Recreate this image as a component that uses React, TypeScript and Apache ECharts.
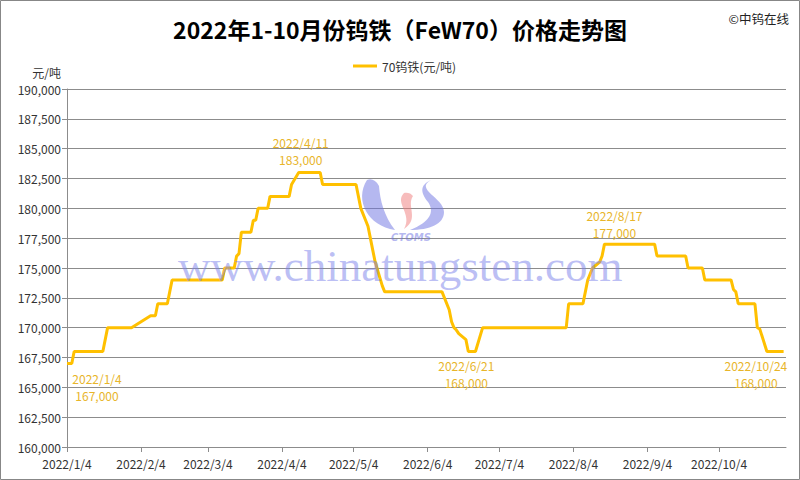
import React, { useEffect, useRef } from 'react';
import * as echarts from 'echarts';

const TITLE = '2022年1-10月份钨铁（FeW70）价格走势图';
const SERIES_NAME = '70钨铁(元/吨)';
const Y_UNIT = '元/吨';
const COPYRIGHT = '©中钨在线';

const tickLabels = ['2022/1/4', '2022/2/4', '2022/3/4', '2022/4/4', '2022/5/4', '2022/6/4', '2022/7/4', '2022/8/4', '2022/9/4', '2022/10/4'];
const xMinDate = '2022/1/4';
const xMaxDate = '2022/11/1';

const dates = [
  '2022/1/4', '2022/1/6', '2022/1/7', '2022/1/19', '2022/1/20', '2022/1/21', '2022/1/31',
  '2022/2/8', '2022/2/10', '2022/2/11', '2022/2/15', '2022/2/16', '2022/2/17',
  '2022/3/10', '2022/3/11', '2022/3/15', '2022/3/16', '2022/3/17', '2022/3/18', '2022/3/22',
  '2022/3/23', '2022/3/24', '2022/3/25', '2022/3/29', '2022/3/30',
  '2022/4/7', '2022/4/8', '2022/4/11', '2022/4/20', '2022/4/21',
  '2022/5/5', '2022/5/6', '2022/5/7', '2022/5/9', '2022/5/10', '2022/5/11', '2022/5/12', '2022/5/13',
  '2022/5/16', '2022/5/17',
  '2022/6/10', '2022/6/13', '2022/6/14', '2022/6/15', '2022/6/16', '2022/6/17', '2022/6/20',
  '2022/6/21', '2022/6/24', '2022/6/27',
  '2022/8/1', '2022/8/2', '2022/8/8', '2022/8/9', '2022/8/10', '2022/8/11', '2022/8/12',
  '2022/8/15', '2022/8/16', '2022/8/17',
  '2022/9/7', '2022/9/8', '2022/9/20', '2022/9/21', '2022/9/27', '2022/9/28',
  '2022/10/9', '2022/10/10', '2022/10/11', '2022/10/12', '2022/10/19', '2022/10/20',
  '2022/10/21', '2022/10/24', '2022/10/31'
];
const prices = [
  167000, 167000, 168000, 168000, 169000, 170000, 170000,
  171000, 171000, 172000, 172000, 173000, 174000,
  174000, 175000, 175000, 176000, 176200, 178000, 178000,
  179000, 179000, 180000, 180000, 181000,
  181000, 182000, 183000, 183000, 182000,
  182000, 181000, 180000, 179000, 178500, 177500, 176500, 175500,
  173500, 173000,
  173000, 171500, 170500, 170000, 169800, 169500, 169000,
  168000, 168000, 170000,
  170000, 172000, 172000, 173000, 174000, 174500, 175000,
  175500, 176000, 177000,
  177000, 176000, 176000, 175000, 175000, 174000,
  174000, 173200, 173000, 172000, 172000, 170000,
  169900, 168000, 168000
];
const annotatedDates = ['2022/1/4', '2022/4/11', '2022/6/21', '2022/8/17', '2022/10/24'];

const FONT = '"Noto Sans CJK SC", "Noto Sans", sans-serif';
const LINE_COLOR = '#FFC000';
const LABEL_COLOR = '#E8B52A';
const GRID_COLOR = '#8C8C8C';

function toTs(s: string): number {
  const [y, m, d] = s.split('/').map(Number);
  return Date.UTC(y, m - 1, d);
}

const fmtNum = (v: number) => v.toLocaleString('en-US');

// logo shapes (watermark)
echarts.graphic.registerShape('ctomsLeft', echarts.graphic.extendPath(
  'M 367 180 C 354 200, 368 226, 395 230 C 384 216, 380 200, 379 186 C 376 180, 371 178, 367 180 Z', {}));
echarts.graphic.registerShape('ctomsRed', echarts.graphic.extendPath(
  'M 404 193 C 394 203, 413 214, 404 229 C 420 219, 406 206, 413 196 C 411 193, 407 192, 404 193 Z', {}));
echarts.graphic.registerShape('ctomsRight', echarts.graphic.extendPath(
  'M 431 180 C 414 189, 444 198, 444 212 C 444 224, 430 230, 410 230 C 430 222, 435 212, 428 202 C 420 192, 420 185, 431 180 Z', {}));

// label placement for annotated points (style only)
const labelPlacement: Record<string, { position: string; offset: number[] }> = {
  '2022/1/4': { position: 'bottom', offset: [30, 2] },
  '2022/4/11': { position: 'top', offset: [2, 0] },
  '2022/6/21': { position: 'bottom', offset: [-2, 0] },
  '2022/8/17': { position: 'top', offset: [10, 2] },
  '2022/10/24': { position: 'bottom', offset: [-11, 0] },
};

export default function App() {
  const ref = useRef<HTMLDivElement>(null);
  useEffect(() => {
    if (!ref.current) return;
    const chart = echarts.init(ref.current, null, { renderer: 'svg', width: 800, height: 480 });
    const tickTs = tickLabels.map(toTs);
    const data = dates.map((d, i) => {
      const item: any = { value: [toTs(d), prices[i]] };
      if (annotatedDates.includes(d)) {
        const p = labelPlacement[d];
        item.label = {
          show: true,
          position: p.position,
          offset: p.offset,
          formatter: () => `${d}\n${fmtNum(prices[i])}`,
          color: LABEL_COLOR,
          fontSize: 12,
          lineHeight: 17,
          fontFamily: FONT,
          align: 'center',
        };
      }
      return item;
    });
    const option: any = {
      animation: false,
      backgroundColor: '#ffffff',
      textStyle: { fontFamily: FONT },
      title: {
        text: TITLE,
        left: 'center',
        top: 12,
        textStyle: { fontSize: 23, fontWeight: 'bold', color: '#000', fontFamily: FONT },
      },
      legend: {
        data: [SERIES_NAME],
        left: 348,
        top: 55,
        icon: 'rect',
        itemWidth: 24,
        itemHeight: 3,
        itemGap: 10,
        selectedMode: false,
        textStyle: { fontSize: 12, color: '#333', fontFamily: FONT },
      },
      grid: { left: 67, right: 14, top: 89, bottom: 33, containLabel: false },
      xAxis: {
        type: 'value',
        min: toTs(xMinDate),
        max: toTs(xMaxDate),
        axisLine: { show: true, lineStyle: { color: GRID_COLOR } },
        axisTick: { show: true, length: 5, customValues: tickTs, lineStyle: { color: GRID_COLOR } },
        axisLabel: {
          customValues: tickTs,
          formatter: (v: number) => {
            const idx = tickTs.indexOf(v);
            return idx >= 0 ? tickLabels[idx] : '';
          },
          fontSize: 12,
          color: '#333',
          margin: 10,
          fontFamily: FONT,
        },
        splitLine: { show: false },
      },
      yAxis: {
        type: 'value',
        min: 160000,
        max: 190000,
        interval: 2500,
        axisLine: { show: true, lineStyle: { color: GRID_COLOR } },
        axisTick: { show: true, length: 5, lineStyle: { color: GRID_COLOR } },
        axisLabel: { formatter: (v: number) => fmtNum(v), fontSize: 12, color: '#333', margin: 6, fontFamily: FONT },
        splitLine: { show: true, lineStyle: { color: GRID_COLOR, width: 1 } },
      },
      series: [
        {
          name: SERIES_NAME,
          type: 'line',
          data,
          symbol: 'circle',
          symbolSize: 0,
          showSymbol: true,
          silent: true,
          lineStyle: { color: LINE_COLOR, width: 3 },
          itemStyle: { color: LINE_COLOR },
          emphasis: { disabled: true },
        },
      ],
      graphic: [
        {
          type: 'rect',
          shape: { x: 0.5, y: 0.5, width: 799, height: 479 },
          style: { fill: 'none', stroke: '#878787', lineWidth: 1 },
          silent: true,
          z: 200,
        },
        {
          type: 'text',
          x: 61,
          y: 72,
          style: { text: Y_UNIT, fontSize: 12, fill: '#333', align: 'right', verticalAlign: 'middle', fontFamily: FONT },
        },
        {
          type: 'text',
          x: 789,
          y: 18,
          style: { text: COPYRIGHT, fontSize: 12.5, fill: '#222', align: 'right', verticalAlign: 'middle', fontFamily: FONT },
        },
        {
          type: 'text',
          x: 178,
          y: 266,
          z: 150,
          silent: true,
          style: {
            text: 'www.chinatungsten.com',
            fontSize: 45,
            fontFamily: '"Liberation Serif", "DejaVu Serif", serif',
            fill: '#7A80EA',
            opacity: 0.5,
            align: 'left',
            verticalAlign: 'middle',
          },
        },
        { type: 'ctomsLeft', x: 0, y: 0, z: 150, silent: true, style: { fill: '#6C72E2', opacity: 0.5 } },
        { type: 'ctomsRed', x: 0, y: 0, z: 150, silent: true, style: { fill: '#F07A7A', opacity: 0.5 } },
        { type: 'ctomsRight', x: 0, y: 0, z: 150, silent: true, style: { fill: '#6C72E2', opacity: 0.5 } },
        {
          type: 'text',
          x: 411,
          y: 237,
          z: 150,
          silent: true,
          style: {
            text: 'CTOMS',
            fontSize: 10,
            fontStyle: 'italic',
            fontWeight: 'bold',
            fontFamily: '"DejaVu Sans", sans-serif',
            fill: '#6C72E2',
            opacity: 0.5,
            align: 'center',
            verticalAlign: 'middle',
          },
        },
      ],
    };
    chart.setOption(option);
    return () => chart.dispose();
  }, []);
  return <div ref={ref} style={{ position: 'fixed', left: 0, top: 0, width: 800, height: 480, background: '#fff' }} />;
}
